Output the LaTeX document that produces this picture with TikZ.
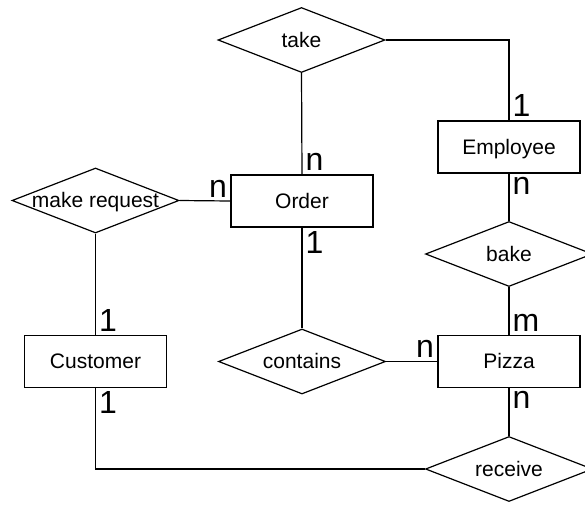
\documentclass[tikz,border=0pt]{standalone}
\usepackage{fontspec}
\setmainfont{Liberation Sans}
\usetikzlibrary{shapes.geometric}
\begin{document}
\begin{tikzpicture}[x=1pt, y=-1pt, line width=1.2pt,
    entity/.style={draw, rectangle, minimum width=142pt, minimum height=52pt, inner sep=0pt, text height=14pt, text depth=0pt, font=\fontsize{21}{25}\selectfont},
    relation/.style={draw, diamond, aspect=2.57, minimum width=167pt, minimum height=65pt, inner sep=0pt, text height=14pt, text depth=0pt, font=\fontsize{21}{25}\selectfont},
    card/.style={inner sep=3pt, font=\fontsize{32}{36}\selectfont}]
    \useasboundingbox (0, 0) rectangle (585, 504);

    \node[relation] (take) at (301.5, 40) {take};
    \node[entity] (order) at (302, 201) {Order};
    \node[relation] (request) at (95.5, 200.5) {make request};
    \node[entity] (employee) at (509, 147) {Employee};
    \node[relation] (bake) at (509, 254) {bake};

    \node[entity] (customer) at (95.5, 361.5) {Customer};
    \node[relation] (contains) at (302, 361.5) {contains};
    \node[entity] (pizza) at (509, 361.5) {Pizza};
    \node[relation] (receive) at (509, 469) {receive};

    \draw (take.south) -- node[card, pos=1, anchor=south west] {n} (order.north);
    \draw (take.east) -| node[card, pos=1, anchor=south west] {1} (employee.north);
    \draw (request.east) -- node[card, pos=1, anchor=south east] {n} (order.west);
    \draw (request.south) -- node[card, pos=1, anchor=south west] {1} (customer.north);
    \draw (order.south) -- node[card, pos=0, anchor=north west] {1} (contains.north);
    \draw (contains.east) -- node[card, pos=1, anchor=south east] {n} (pizza.west);
    \draw (employee.south) -- node[card, pos=0, anchor=north west] {n} (bake.north);
    \draw (bake.south) -- node[card, pos=1, anchor=south west] {m} (pizza.north);
    \draw (pizza.south) -- node[card, pos=0, anchor=north west] {n} (receive.north);
    \draw (customer.south) |- node[card, pos=0, anchor=north west] {1} (receive.west);
\end{tikzpicture}
\end{document}
